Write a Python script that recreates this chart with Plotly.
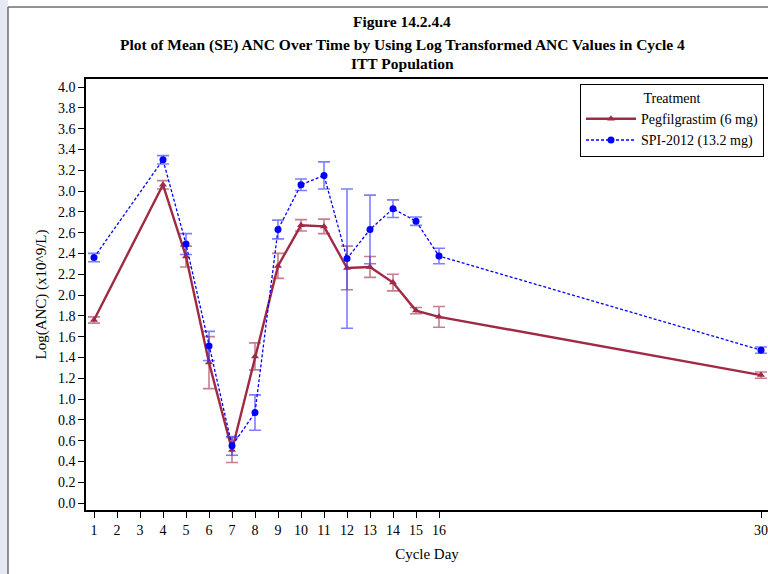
import plotly.graph_objects as go

days = [1, 4, 5, 6, 7, 8, 9, 10, 11, 12, 13, 14, 15, 16, 30]
peg_mean = [1.76, 3.06, 2.37, 1.35, 0.51, 1.41, 2.28, 2.67, 2.66, 2.26, 2.27, 2.12, 1.85, 1.79, 1.23]
peg_se = [0.03, 0.04, 0.10, 0.25, 0.12, 0.13, 0.12, 0.055, 0.07, 0.21, 0.10, 0.08, 0.03, 0.10, 0.03]
spi_mean = [2.36, 3.30, 2.49, 1.51, 0.55, 0.87, 2.63, 3.06, 3.15, 2.35, 2.63, 2.83, 2.71, 2.375, 1.47]
spi_se = [0.04, 0.04, 0.10, 0.14, 0.09, 0.17, 0.09, 0.055, 0.13, 0.67, 0.33, 0.085, 0.04, 0.075, 0.03]
x_ticks = [1, 2, 3, 4, 5, 6, 7, 8, 9, 10, 11, 12, 13, 14, 15, 16, 30]
y_ticks = [round(0.2 * i, 1) for i in range(21)]
title_lines = [
    "Figure 14.2.4.4",
    "Plot of Mean (SE) ANC Over Time by Using Log Transformed ANC Values in Cycle 4",
    "ITT Population",
]

RED = "#9E2A44"
BLUE = "#0000FF"
FONT = "Liberation Serif"

fig = go.Figure()
fig.add_trace(go.Scatter(
    x=days, y=peg_mean, name="Pegfilgrastim (6 mg)", mode="lines+markers",
    line=dict(color=RED, width=2.4),
    marker=dict(symbol="triangle-up", size=7, color=RED),
    error_y=dict(type="data", array=peg_se, color="rgba(158,42,68,0.6)", thickness=1.6, width=6),
))
fig.add_trace(go.Scatter(
    x=days, y=spi_mean, name="SPI-2012 (13.2 mg)", mode="lines+markers",
    line=dict(color=BLUE, width=1.3, dash="3px,2px"),
    marker=dict(symbol="circle", size=7, color=BLUE),
    error_y=dict(type="data", array=spi_se, color="rgba(40,40,255,0.6)", thickness=1.6, width=6),
))

W, H = 768, 574
L, R, T, B = 86, 0, 79, 64
pw, ph = W - L - R, H - T - B

def px2paperx(px):
    return (px - L) / pw

def px2papery(py):
    return 1 - (py - T) / ph

shapes = [
    dict(type="rect", xref="paper", yref="paper", x0=px2paperx(0), x1=px2paperx(8),
         y0=px2papery(H), y1=px2papery(0), fillcolor="#E6E8F3", line=dict(width=0), layer="below"),
    dict(type="line", xref="paper", yref="paper", x0=px2paperx(8), x1=px2paperx(W),
         y0=px2papery(7), y1=px2papery(7), line=dict(color="#6E6E6E", width=1.5)),
    dict(type="line", xref="paper", yref="paper", x0=px2paperx(8), x1=px2paperx(8),
         y0=px2papery(7), y1=px2papery(H), line=dict(color="#6E6E6E", width=1.5)),
]

annotations = []
for text, ypx in zip(title_lines, [22, 45, 63]):
    annotations.append(dict(
        text=f"<b>{text}</b>", xref="paper", yref="paper", x=px2paperx(402), y=px2papery(ypx),
        xanchor="center", yanchor="middle", showarrow=False,
        font=dict(family=FONT, size=15.5, color="black"),
    ))

fig.update_layout(
    width=W, height=H,
    margin=dict(l=L, r=R, t=T, b=B, autoexpand=False),
    paper_bgcolor="white", plot_bgcolor="white",
    font=dict(family=FONT, color="black", size=14),
    xaxis=dict(
        range=[1 - 8 / 23, 1 + (W - 94) / 23], tickmode="array", tickvals=x_ticks,
        ticktext=[str(v) for v in x_ticks],
        showgrid=False, zeroline=False, showline=True, linecolor="black", linewidth=1.5,
        mirror=True, ticks="outside", ticklen=6, tickcolor="black", tickwidth=1,
        title=dict(text="Cycle Day", font=dict(family=FONT, size=15), standoff=12),
        tickfont=dict(family=FONT, size=14),
    ),
    yaxis=dict(
        range=[-0.067, 4.077], tickmode="array", tickvals=y_ticks,
        ticktext=[f"{v:.1f}" for v in y_ticks],
        showgrid=False, zeroline=False, showline=True, linecolor="black", linewidth=1.5,
        ticks="outside", ticklen=6, tickcolor="black", tickwidth=1,
        title=dict(text="Log(ANC) (x10^9/L)", font=dict(family=FONT, size=15), standoff=8),
        tickfont=dict(family=FONT, size=14),
    ),
    legend=dict(
        x=px2paperx(580), y=px2papery(84), xanchor="left", yanchor="top",
        bordercolor="black", borderwidth=1, bgcolor="white",
        title=dict(text="Treatment", side="top center", font=dict(family=FONT, size=14)),
        font=dict(family=FONT, size=14), itemwidth=50, tracegroupgap=0,
    ),
    shapes=shapes,
    annotations=annotations,
    showlegend=True,
)

fig.write_html("out.html")
